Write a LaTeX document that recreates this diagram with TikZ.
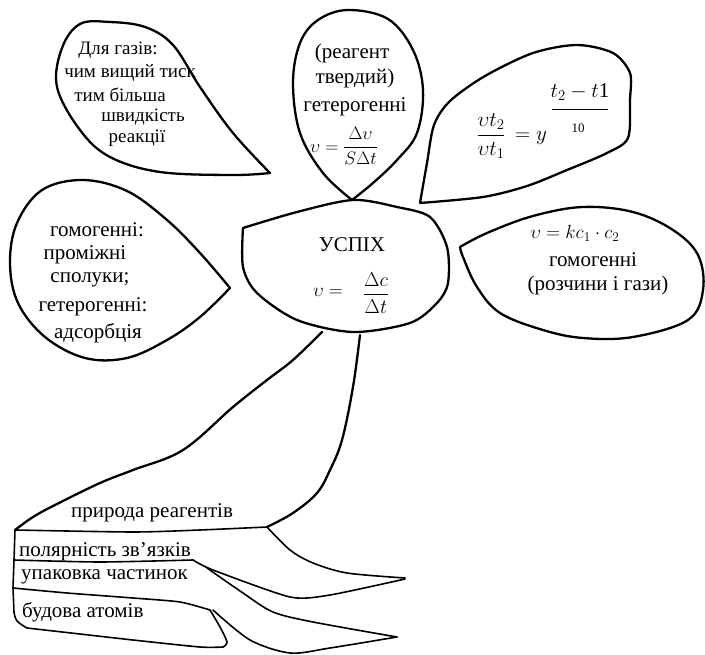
\RequirePackage{fix-cm}
\documentclass[tikz,border=0pt]{standalone}
\usepackage{amsmath}
\usepackage{fontspec}
\setmainfont{Liberation Serif}
\begin{document}
\begin{tikzpicture}[x=1pt,y=-1pt,
  outl/.style={line width=2.3pt, line join=round, line cap=round},
  fine/.style={line width=1.6pt, line join=round, line cap=round},
  txt/.style={font=\fontsize{21}{23}\selectfont, inner sep=0pt, align=center},
  stxt/.style={font=\fontsize{19}{22}\selectfont, inner sep=0pt, align=center},
  btxt/.style={font=\fontsize{21}{23}\selectfont, inner sep=0pt},
  mth/.style={font=\fontsize{18}{20}\selectfont, inner sep=0pt}]
\useasboundingbox (0,0) rectangle (705,655);

% top-left petal
\draw[outl] plot[smooth, tension=0.6] coordinates {(270,173) (233,133) (200,87) (173,45) (145,27) (110,22) (80,24) (62,48) (57,87) (80,130) (110,157) (160,172) (233,175) (270,173)};
% top petal
\draw[outl] plot[smooth, tension=0.6] coordinates {(352,200) (323,173) (300,133) (293,83) (300,43) (318,20) (348,10) (388,19) (413,50) (423,90) (417,133) (397,160) (373,183) (352,200)};
% top-right petal
\draw[outl] plot[smooth, tension=0.5] coordinates {(420,203) (427,163) (434,125) (450,101) (485,76) (533,53) (577,45) (613,53) (630,73) (630,100) (628,138) (607,153) (567,170) (527,186) (483,197) (420,203)};
% left petal
\draw[outl] plot[smooth, tension=0.6] coordinates {(230,288) (200,253) (167,220) (127,191) (83,180) (42,190) (17,223) (10,263) (18,303) (45,337) (85,358) (127,358) (167,340) (200,317) (230,288)};
% right petal
\draw[outl] plot[smooth, tension=0.6] coordinates {(460,247) (487,233) (533,216) (583,207) (633,212) (673,230) (698,255) (703,290) (688,320) (633,337) (583,338) (543,330) (500,313) (477,287) (463,257) (460,247)};
% centre
\draw[outl] plot[smooth, tension=0.5] coordinates {(243,228) (297,212) (353,200) (397,207) (430,217) (447,247) (448,283) (437,303) (410,323) (353,332) (297,320) (257,293) (243,267) (243,228)};

% stem
\draw[outl] plot[smooth, tension=0.6] coordinates {(322,332) (293,360) (267,380) (233,407) (183,450) (133,470) (100,483) (55,505) (33,517) (15,530)};
\draw[outl] plot[smooth, tension=0.6] coordinates {(360,335) (353,387) (342,440) (330,470) (317,493) (293,513) (267,527)};

% bottom block
\draw[fine] plot[smooth, tension=0.4] coordinates {(15,530) (133,532) (200,530) (267,527)};
\draw[fine] (15,530) -- (14,560) -- (13,588) -- (14,612);
\draw[fine] plot[smooth, tension=0.6] coordinates {(14,612) (17,621) (27,628)};
\draw[fine] plot[smooth, tension=0.4] coordinates {(14,560) (100,562) (193,560)};
\draw[fine] plot[smooth, tension=0.4] coordinates {(13,588) (67,593) (133,598) (180,602) (210,610)};
\draw[fine] plot[smooth, tension=0.4] coordinates {(27,628) (133,640) (200,647) (223,647)};
\draw[fine] plot[smooth, tension=0.5] coordinates {(210,610) (220,627) (227,642) (223,647)};
% upper small leaf
\draw[fine] plot[smooth, tension=0.5] coordinates {(267,527) (290,550) (313,563) (347,573) (405,578)};
\draw[fine] plot[smooth, tension=0.4] coordinates {(405,579) (330,595) (290,597) (213,570) (193,560)};
% lower small leaf
\draw[fine] plot[smooth, tension=0.5] coordinates {(207,568) (243,593) (273,612) (313,622) (397,637)};
\draw[fine] plot[smooth, tension=0.5] coordinates {(397,637) (330,648) (290,653) (250,640) (213,610)};

% texts: top-left petal
\node[stxt] (g1) at (118,50) {Для газів:};
\node[stxt] (g2) at (130,73) {чим вищий тиск};
\node[stxt] (g3) at (120,95) {тим більша};
\node[stxt] (g4) at (143,117) {швидкість};
\node[stxt] (g5) at (137,138) {реакції};

% top petal
\node[txt] (r1) at (352,53) {(реагент};
\node[txt] (r2) at (355,78) {твердий)};
\node[txt] (r3) at (355,107) {гетерогенні};
\node[mth, font=\fontsize{18}{20}\selectfont] (r4) at (344,146) {$\upsilon = \dfrac{\Delta\upsilon}{S\Delta t}$};

% top-right petal formula
\node[mth, font=\fontsize{21}{23}\selectfont] (f1) at (491,136) {$\dfrac{\upsilon t_{2}}{\upsilon t_{1}}$};
\node[mth, font=\fontsize{21}{23}\selectfont] (f2) at (531,138) {$= y$};
\node[mth, font=\fontsize{21}{23}\selectfont] (f3) at (580,92) {$t_{2} - t\mathrm{1}$};
\node[inner sep=0pt, font=\fontsize{13}{15}\selectfont] (f4) at (578,128) {10};
\coordinate (e1) at (552,109);
\coordinate (e2) at (608,109);
\draw[line width=0.9pt] (e1) -- (e2);

% left petal
\node[txt] (h1) at (97,230) {гомогенні:};
\node[txt] (h2) at (85,255) {проміжні};
\node[txt] (h3) at (90,280) {сполуки;};
\node[txt] (h4) at (93,307) {гетерогенні:};
\node[txt] (h5) at (98,333) {адсорбція};

% centre
\node[txt] (c1) at (352,245) {УСПІХ};
\node[mth, font=\fontsize{19}{21}\selectfont] (c2) at (328,292) {$\upsilon =$};
\node[mth, font=\fontsize{20}{22}\selectfont] (c3) at (376,293) {$\dfrac{\Delta c}{\Delta t}$};

% right petal
\node[mth, font=\fontsize{19}{21}\selectfont] (k1) at (575,233) {$\upsilon = kc_1\cdot c_2$};
\node[txt] (k2) at (593,260) {гомогенні};
\node[txt] (k3) at (598,285) {(розчини і гази)};

% bottom labels
\node[btxt] (b1) at (152,513) {природа реагентів};
\node[btxt, anchor=west] (b2) at (19,552) {полярність звʼязків};
\node[btxt, anchor=west] (b3) at (21,577) {упаковка частинок};
\node[btxt, anchor=west] (b4) at (22,612) {будова атомів};
\end{tikzpicture}
\end{document}
